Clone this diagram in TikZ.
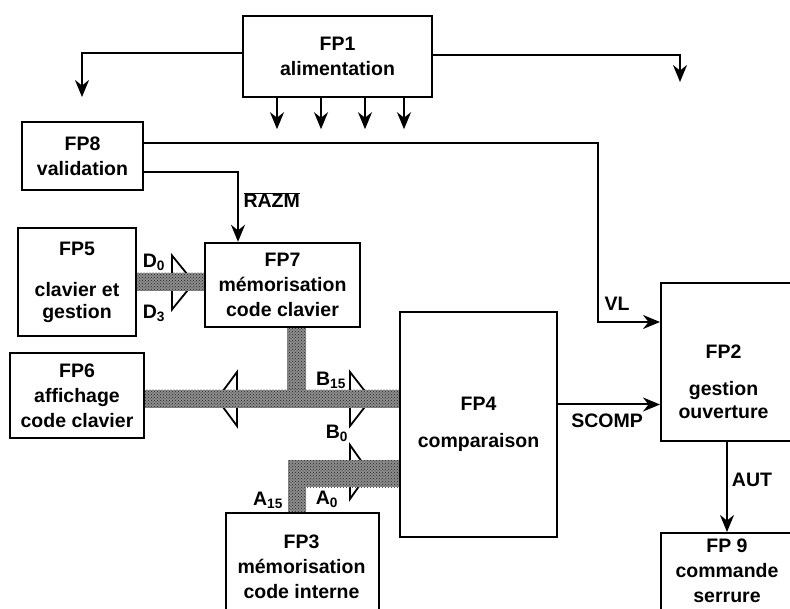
\documentclass[tikz,border=0pt]{standalone}
\usepackage{fontspec}
\setmainfont{Liberation Sans}
\usetikzlibrary{arrows.meta, patterns}
\tikzstyle{block}=[draw,fill=white,rectangle,line width=2.4pt,inner sep=0pt]
\tikzstyle{every node}=[font=\bfseries\fontsize{19.5}{25}\selectfont,align=center]
\tikzstyle{bus}=[preaction={fill=black!45},pattern=crosshatch dots,pattern color=black!85]
\tikzstyle{link}=[->,line width=2pt]
\newcommand{\busarrow}[3]{\draw[line width=1.8pt,fill=white] ({#1},{#3-27}) -- ({#2},{#3}) -- ({#1},{#3+27}) -- cycle;}

\begin{document}
\begin{tikzpicture}[x=1pt,y=-1pt,>={Stealth[length=17pt,width=14pt]}]
\clip (0,0) rectangle (790,609);
% blocks
\node[block, minimum width=189, minimum height=81] (fp1) at (337.5,56.5) {FP1\\alimentation};
\node[block, minimum width=121, minimum height=68] (fp8) at (82.5,156) {FP8\\validation};
\node[block, minimum width=118, minimum height=108] (fp5) at (77,282) {FP5\\[16pt]clavier et\\[-3pt]gestion};
\node[block, minimum width=155, minimum height=84] (fp7) at (282.5,285) {FP7\\mémorisation\\code clavier};
\node[block, minimum width=134, minimum height=85] (fp6) at (77,395.5) {FP6\\affichage\\code clavier};
\node[block, minimum width=157, minimum height=225] (fp4) at (478.5,424.5) {FP4\\[12pt]comparaison};
\node[block, anchor=north west, minimum width=160, minimum height=158] (fp2) at (660,282) {};
\node (fp2txt) at (723.5,382) {FP2\\[12pt]gestion\\[-2pt]ouverture};
\node[block, anchor=north west, minimum width=153, minimum height=120] (fp3) at (225,512) {};
\node (fp3txt) at (301.5,567) {FP3\\mémorisation\\code interne};
\node[block, anchor=north west, minimum width=160, minimum height=100] (fp9) at (660,532) {};
\node (fp9txt) at (727,571) {FP 9\\commande\\serrure};

% power supply
\coordinate (pwl) at (82,97);
\coordinate (pwr) at (680,82);
\draw[link] ([yshift=3pt]fp1.west) -| (pwl);
\draw[link] ([yshift=1pt]fp1.east) -| (pwr);
\foreach \x in {277,321,365,404}
  \draw[link] (\x,0 |- fp1.south) -- ++(0,31);

% validation
\coordinate (vl) at (598,322);
\draw[link] ([yshift=13pt]fp8.east) -| (vl) -- (vl -| fp2.west);
\node (vltxt) at (617,304) {VL};
\draw[link] ([yshift=-16pt]fp8.east) -| ([xshift=-44.5pt]fp7.north);
\node[anchor=west] (razm) at (240,200) {$\overline{\hbox{RAZM}}$};

% buses
\busarrow{172}{194}{282.5}
\busarrow{237}{217}{399}
\busarrow{350}{371}{399}
\busarrow{350}{369}{472}
\fill[bus] (fp5.east |- 0,273) rectangle (fp7.west |- 0,291);
\fill[bus] (287,0 |- fp7.south) rectangle (306,408);
\fill[bus] (fp6.east |- 0,390) rectangle (fp4.west |- 0,408);
\fill[bus] (288,460) rectangle (fp4.west |- 0,487);
\fill[bus] (288,460) rectangle (306,0 |- fp3.north);
\node (d0) at (154,262) {D\textsubscript{0}};
\node (d3) at (154,313) {D\textsubscript{3}};
\node (b15) at (331,380) {B\textsubscript{15}};
\node (b0) at (337,433) {B\textsubscript{0}};
\node (a15) at (268,500) {A\textsubscript{15}};
\node (a0) at (327,499) {A\textsubscript{0}};

% outputs
\draw[link] ([yshift=20pt]fp4.east) -- ([yshift=20pt]fp4.east -| fp2.west);
\node (scomp) at (607,421) {SCOMP};
\draw[link] (fp2.south -| fp9txt) -- (fp9.north -| fp9txt);
\node (aut) at (752,480) {AUT};
\end{tikzpicture}
\end{document}
